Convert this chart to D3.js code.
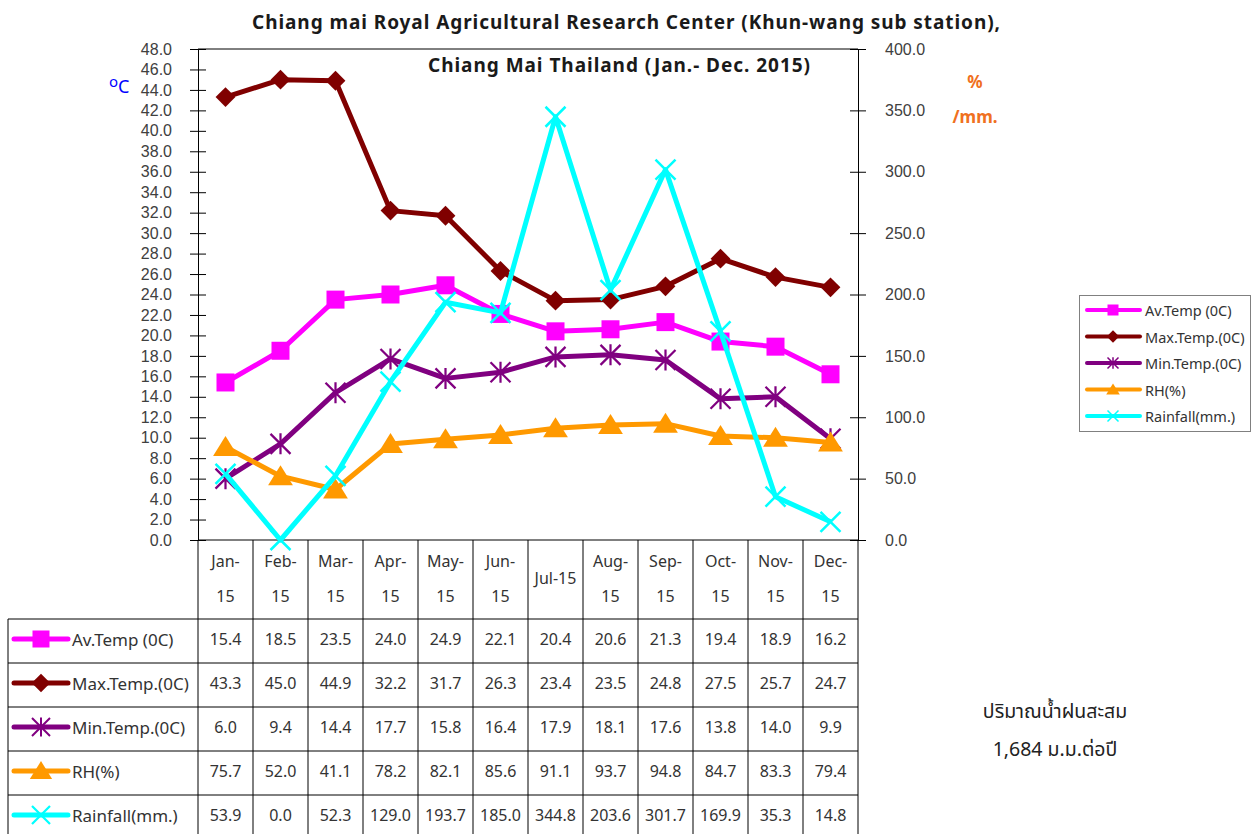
<!DOCTYPE html>
<html><head><meta charset="utf-8">
<script src="https://cdn.jsdelivr.net/npm/d3@7"></script>
<style>
body{margin:0;background:#fff;}
svg{display:block;font-family:"Noto Sans","Noto Sans Thai",Tahoma,sans-serif;}
</style></head>
<body><svg id="c" width="1253" height="834"></svg>
<script>
const months = ["Jan-15","Feb-15","Mar-15","Apr-15","May-15","Jun-15","Jul-15","Aug-15","Sep-15","Oct-15","Nov-15","Dec-15"];
const avTemp  = [15.4,18.5,23.5,24.0,24.9,22.1,20.4,20.6,21.3,19.4,18.9,16.2];
const maxTemp = [43.3,45.0,44.9,32.2,31.7,26.3,23.4,23.5,24.8,27.5,25.7,24.7];
const minTemp = [6.0,9.4,14.4,17.7,15.8,16.4,17.9,18.1,17.6,13.8,14.0,9.9];
const rh      = [75.7,52.0,41.1,78.2,82.1,85.6,91.1,93.7,94.8,84.7,83.3,79.4];
const rain    = [53.9,0.0,52.3,129.0,193.7,185.0,344.8,203.6,301.7,169.9,35.3,14.8];
const leftTicks = d3.range(0, 48.01, 2);
const rightTicks = d3.range(0, 400.01, 50);
const titleLine1 = "Chiang mai Royal Agricultural Research Center (Khun-wang sub station),";
const titleLine2 = "Chiang Mai Thailand (Jan.- Dec. 2015)";
const noteLines = ["ปริมาณน้ำฝนสะสม", "1,684 ม.ม.ต่อปี"];

const series = [
  {name:"Av.Temp (0C)", values:avTemp, color:"#ff00ff", marker:"square", axis:"L"},
  {name:"Max.Temp.(0C)", values:maxTemp, color:"#800000", marker:"diamond", axis:"L"},
  {name:"Min.Temp.(0C)", values:minTemp, color:"#800080", marker:"star", axis:"L"},
  {name:"RH(%)", values:rh, color:"#ff9900", marker:"triangle", axis:"R"},
  {name:"Rainfall(mm.)", values:rain, color:"#00ffff", marker:"x", axis:"R"}
];

const svg = d3.select("#c");
const X0 = 198, X1 = 858, YT = 49, YB = 540;
const x = d3.scaleBand().domain(months).range([X0, X1]);
const yL = d3.scaleLinear().domain([0, 48]).range([YB, YT]);
const yR = d3.scaleLinear().domain([0, 400]).range([YB, YT]);
const textCol = "#333";

// titles
svg.append("text").attr("x", 252).attr("y", 29)
  .attr("font-size", 19).attr("font-weight","bold").attr("fill","#1a1a1a")
  .attr("textLength", 748).attr("lengthAdjust","spacing").text(titleLine1);
svg.append("text").attr("x", 428).attr("y", 72)
  .attr("font-size", 19).attr("font-weight","bold").attr("fill","#1a1a1a")
  .attr("textLength", 382).attr("lengthAdjust","spacing").text(titleLine2);

// unit labels
const uc = svg.append("text").attr("x", 109).attr("y", 93).attr("fill","#0000ff").attr("font-size", 18);
uc.append("tspan").attr("font-size", 15).attr("dy", -6).text("o");
uc.append("tspan").attr("dy", 6).text("C");
svg.append("text").attr("x", 975).attr("y", 88).attr("text-anchor","middle").attr("fill","#f07020")
  .attr("font-size", 17).attr("font-weight","bold").text("%");
svg.append("text").attr("x", 975).attr("y", 123).attr("text-anchor","middle").attr("fill","#f07020")
  .attr("font-size", 17).attr("font-weight","bold").text("/mm.");

// axes
const gL = svg.append("g").attr("transform", `translate(${X0},0)`)
  .call(d3.axisLeft(yL).tickValues(leftTicks).tickFormat(d3.format(".1f")).tickSize(8).tickSizeOuter(0));
gL.selectAll(".tick line").attr("x1", 8).attr("x2", -8).attr("stroke","#000");
gL.selectAll(".tick text").attr("x", -26).attr("font-size", 16).attr("fill","#404040").attr("font-family",null);
gL.select(".domain").attr("stroke","#000");
const gR = svg.append("g").attr("transform", `translate(${X1},0)`)
  .call(d3.axisRight(yR).tickValues(rightTicks).tickFormat(d3.format(".1f")).tickSize(8).tickSizeOuter(0));
gR.selectAll(".tick line").attr("x1", -8).attr("x2", 8).attr("stroke","#000");
gR.selectAll(".tick text").attr("x", 27).attr("font-size", 16).attr("fill","#404040").attr("font-family",null);
gR.select(".domain").attr("stroke","#000");
svg.append("line").attr("x1", X0).attr("x2", X1).attr("y1", YT).attr("y2", YT).attr("stroke","#000");
svg.append("line").attr("x1", X0).attr("x2", X1).attr("y1", YB).attr("y2", YB).attr("stroke","#000");

// marker drawing
function marker(g, type, cx, cy, color, s) {
  if (type === "square") {
    g.append("rect").attr("x", cx - s/2).attr("y", cy - s/2).attr("width", s).attr("height", s).attr("fill", color);
  } else if (type === "diamond") {
    const r = s * 0.62;
    g.append("path").attr("d", `M${cx},${cy-r}L${cx+r},${cy}L${cx},${cy+r}L${cx-r},${cy}Z`).attr("fill", color);
  } else if (type === "triangle") {
    const w = s * 0.62, h = s * 1.0;
    g.append("path").attr("d", `M${cx},${cy-h*0.55}L${cx+w},${cy+h*0.45}L${cx-w},${cy+h*0.45}Z`).attr("fill", color);
  } else if (type === "star") {
    const r = s / 2;
    g.append("path").attr("d", `M${cx-r},${cy-r}L${cx+r},${cy+r}M${cx+r},${cy-r}L${cx-r},${cy+r}M${cx},${cy-r*1.05}L${cx},${cy+r*1.05}`)
      .attr("stroke", color).attr("stroke-width", Math.max(1.5, s/9)).attr("fill","none");
  } else if (type === "x") {
    const r = s / 2;
    g.append("path").attr("d", `M${cx-r},${cy-r}L${cx+r},${cy+r}M${cx+r},${cy-r}L${cx-r},${cy+r}`)
      .attr("stroke", color).attr("stroke-width", Math.max(1.5, s/8)).attr("fill","none");
  }
}

// series lines
const plot = svg.append("g");
series.forEach(s => {
  const y = s.axis === "L" ? yL : yR;
  const line = d3.line().x((d,i) => x(months[i]) + x.bandwidth()/2).y(d => y(d));
  const g = plot.append("g");
  g.append("path").attr("d", line(s.values)).attr("fill","none").attr("stroke", s.color)
    .attr("stroke-width", 5).attr("stroke-linejoin","round");
  s.values.forEach((v,i) => {
    const sz = {square:18, diamond:16, star:20, triangle:20, x:20}[s.marker];
    marker(g, s.marker, x(months[i]) + x.bandwidth()/2, y(v), s.color, sz);
  });
});

// data table
const TL = 8, headTop = YB, headBot = 619, rowH = 44;
const tbl = svg.append("g");
const nRows = series.length;
const tableBottom = headBot + rowH * nRows;
months.forEach((m,i) => {
  tbl.append("line").attr("x1", x(m)).attr("x2", x(m)).attr("y1", headTop).attr("y2", tableBottom).attr("stroke","#000");
});
tbl.append("line").attr("x1", X1).attr("x2", X1).attr("y1", headTop).attr("y2", tableBottom).attr("stroke","#000");
tbl.append("line").attr("x1", TL).attr("x2", TL).attr("y1", headBot).attr("y2", tableBottom).attr("stroke","#000");
for (let r = 0; r <= nRows; r++) {
  const yy = headBot + r * rowH;
  tbl.append("line").attr("x1", TL).attr("x2", X1).attr("y1", yy).attr("y2", yy).attr("stroke","#000");
}
// header labels: wrap at "-" when the label is wider than the single-line limit
const wrapLimit = 46;
months.forEach(m => {
  const cx = x(m) + x.bandwidth()/2;
  const t = tbl.append("text").attr("x", cx).attr("y", 578).attr("text-anchor","middle")
    .attr("dominant-baseline","central").attr("font-size", 16).attr("fill", textCol).text(m);
  if (t.node().getComputedTextLength() > wrapLimit) {
    const parts = m.split("-");
    t.text(null).attr("y", null);
    t.append("tspan").attr("x", cx).attr("y", 561).text(parts[0] + "-");
    t.append("tspan").attr("x", cx).attr("y", 596).text(parts[1]);
  }
});
// rows
series.forEach((s, r) => {
  const cy = headBot + r * rowH + rowH/2 - 2;
  tbl.append("line").attr("x1", 14).attr("x2", 68).attr("y1", cy).attr("y2", cy)
    .attr("stroke", s.color).attr("stroke-width", 5).attr("stroke-linecap","round");
  marker(tbl, s.marker, 41, cy, s.color, {square:17, diamond:15, star:18, triangle:18, x:18}[s.marker]);
  tbl.append("text").attr("x", 72).attr("y", cy).attr("dominant-baseline","central")
    .attr("font-size", 17).attr("fill", textCol).text(s.name);
  s.values.forEach((v,i) => {
    tbl.append("text").attr("x", x(months[i]) + x.bandwidth()/2).attr("y", cy)
      .attr("text-anchor","middle").attr("dominant-baseline","central")
      .attr("font-size", 16).attr("fill", textCol).text(d3.format(".1f")(v));
  });
});

// legend
const lg = svg.append("g");
lg.append("rect").attr("x", 1079.5).attr("y", 295.5).attr("width", 171).attr("height", 136)
  .attr("fill","#fff").attr("stroke","#808080");
series.forEach((s, i) => {
  const cy = 310 + i * 26.5;
  lg.append("line").attr("x1", 1087).attr("x2", 1140).attr("y1", cy).attr("y2", cy)
    .attr("stroke", s.color).attr("stroke-width", 4).attr("stroke-linecap","round");
  marker(lg, s.marker, 1113, cy, s.color, {square:11, diamond:10, star:11, triangle:11, x:11}[s.marker]);
  lg.append("text").attr("x", 1145).attr("y", cy).attr("dominant-baseline","central")
    .attr("font-size", 14.5).attr("fill", textCol).text(s.name);
});

// note
noteLines.forEach((t, i) => {
  svg.append("text").attr("x", 1055).attr("y", 710 + i * 38).attr("text-anchor","middle")
    .attr("dominant-baseline","central").attr("font-size", 19.5).attr("fill", "#222").text(t);
});
</script></body></html>
